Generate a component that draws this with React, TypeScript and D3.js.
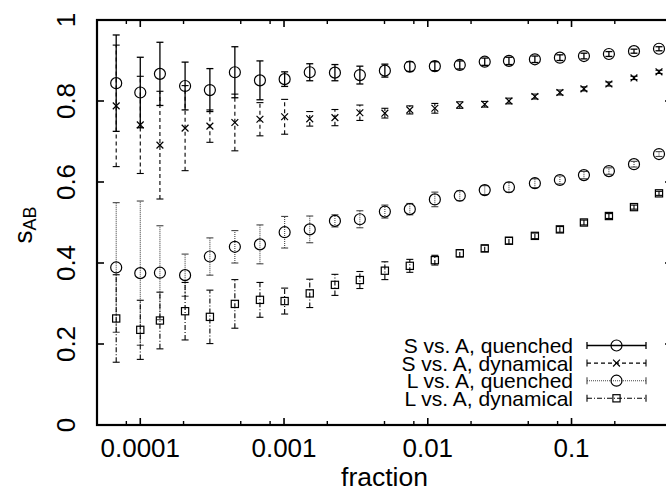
import React from "react";
import * as d3 from "d3";

// Sampled fractions (shared by all four series)
const fractions = [
  6.8e-5, 1.0e-4, 1.37e-4, 2.05e-4, 3.05e-4, 4.55e-4, 6.8e-4, 1.01e-3, 1.51e-3,
  2.26e-3, 3.37e-3, 5.03e-3, 7.5e-3, 0.0112, 0.0167, 0.0249, 0.0367, 0.0556,
  0.083, 0.122, 0.182, 0.272, 0.406,
];

const sQuenched = [
  0.844, 0.821, 0.867, 0.837, 0.827, 0.871, 0.851, 0.854, 0.871, 0.870, 0.864,
  0.875, 0.885, 0.886, 0.889, 0.897, 0.899, 0.903, 0.907, 0.911, 0.916, 0.923, 0.929,
];
const sQuenchedErr = [
  0.119, 0.087, 0.078, 0.059, 0.053, 0.063, 0.048, 0.018, 0.021, 0.02, 0.022,
  0.016, 0.012, 0.011, 0.01, 0.009, 0.009, 0.008, 0.007, 0.007, 0.006, 0.005, 0.005,
];

const sDynamical = [
  0.788, 0.741, 0.691, 0.733, 0.738, 0.747, 0.755, 0.761, 0.756, 0.759, 0.771,
  0.77, 0.778, 0.782, 0.79, 0.792, 0.8, 0.811, 0.821, 0.83, 0.842, 0.857, 0.872,
];
const sDynamicalErr = [
  0.15, 0.12, 0.133, 0.105, 0.04, 0.07, 0.041, 0.043, 0.018, 0.02, 0.019, 0.012,
  0.01, 0.012, 0.008, 0.007, 0.007, 0.006, 0.006, 0.005, 0.005, 0.004, 0.004,
];

const lQuenched = [
  0.389, 0.375, 0.376, 0.37, 0.416, 0.44, 0.446, 0.476, 0.483, 0.504, 0.508,
  0.527, 0.533, 0.557, 0.566, 0.58, 0.587, 0.597, 0.605, 0.617, 0.627, 0.644, 0.669,
];
const lQuenchedErr = [
  0.16, 0.178, 0.116, 0.052, 0.046, 0.04, 0.048, 0.039, 0.033, 0.015, 0.021,
  0.016, 0.014, 0.018, 0.012, 0.011, 0.012, 0.011, 0.01, 0.009, 0.008, 0.007, 0.006,
];

const lDynamical = [
  0.263, 0.235, 0.258, 0.281, 0.267, 0.299, 0.309, 0.306, 0.325, 0.346, 0.358,
  0.381, 0.393, 0.407, 0.424, 0.436, 0.455, 0.467, 0.483, 0.5, 0.516, 0.538, 0.572,
];
const lDynamicalErr = [
  0.108, 0.073, 0.07, 0.071, 0.066, 0.06, 0.043, 0.032, 0.035, 0.026, 0.021,
  0.022, 0.016, 0.012, 0.009, 0.008, 0.008, 0.007, 0.007, 0.006, 0.006, 0.005, 0.005,
];

const seriesLabels = [
  "S vs. A, quenched",
  "S vs. A, dynamical",
  "L vs. A, quenched",
  "L vs. A, dynamical",
];

const xTickValues = [1e-4, 1e-3, 1e-2, 1e-1];
const xTickLabels = ["0.0001", "0.001", "0.01", "0.1"];
const yTickValues = [0, 0.2, 0.4, 0.6, 0.8, 1];
const yTickLabels = ["0", "0.2", "0.4", "0.6", "0.8", "1"];

type Marker = "circle" | "cross" | "square";

const series = [
  { values: sQuenched, errors: sQuenchedErr, marker: "circle" as Marker, dash: "none", stroke: "#000", width: 1.3 },
  { values: sDynamical, errors: sDynamicalErr, marker: "cross" as Marker, dash: "4,3", stroke: "#000", width: 1.1 },
  { values: lQuenched, errors: lQuenchedErr, marker: "circle" as Marker, dash: "1,1", stroke: "#444", width: 1.1 },
  { values: lDynamical, errors: lDynamicalErr, marker: "square" as Marker, dash: "5,2,1,2", stroke: "#000", width: 1.1 },
];

const W = 666;
const H = 491;
const left = 97;
const right = 672;
const top = 20;
const bottom = 425;
const FONT = "'Liberation Sans', Arial, Helvetica, sans-serif";

const x = d3.scaleLog().domain([5e-5, 0.5]).range([left, right]);
const y = d3.scaleLinear().domain([0, 1]).range([bottom, top]);

// minor ticks at 2, 5 and 8 times each power of ten inside the domain
const minorTicks: number[] = [];
for (let e = -5; e <= -1; e++) {
  for (const m of [2, 5, 8]) {
    const v = m * Math.pow(10, e);
    if (v > 5e-5 && v < 0.5) minorTicks.push(v);
  }
}

function MarkerShape({ kind, cx, cy, stroke }: { kind: Marker; cx: number; cy: number; stroke: string }) {
  if (kind === "circle")
    return <circle cx={cx} cy={cy} r={5.5} fill="none" stroke={stroke} strokeWidth={1.2} />;
  if (kind === "square")
    return <rect x={cx - 3.6} y={cy - 3.6} width={7.2} height={7.2} fill="none" stroke={stroke} strokeWidth={1.2} />;
  const s = 3.4;
  return (
    <path
      d={`M${cx - s},${cy - s}L${cx + s},${cy + s}M${cx - s},${cy + s}L${cx + s},${cy - s}`}
      stroke={stroke}
      strokeWidth={1.2}
    />
  );
}

export default function App() {
  const cap = 3.5;
  return (
    <svg
      width={W}
      height={H}
      style={{ position: "absolute", left: 0, top: 0, background: "#fff" }}
      fontFamily={FONT}
    >
      <rect x={0} y={0} width={W} height={H} fill="#fff" />

      {/* error bars and markers */}
      {series.map((s, si) => (
        <g key={si}>
          {fractions.map((f, i) => {
            const cx = x(f);
            const y0 = y(s.values[i] - s.errors[i]);
            const y1 = y(s.values[i] + s.errors[i]);
            return (
              <g key={i} stroke={s.stroke} strokeWidth={s.width} strokeDasharray={s.dash} fill="none">
                <line x1={cx} x2={cx} y1={y0} y2={y1} />
                <line x1={cx - cap} x2={cx + cap} y1={y0} y2={y0} strokeDasharray="none" />
                <line x1={cx - cap} x2={cx + cap} y1={y1} y2={y1} strokeDasharray="none" />
              </g>
            );
          })}
          {fractions.map((f, i) => (
            <MarkerShape key={`m${i}`} kind={s.marker} cx={x(f)} cy={y(s.values[i])} stroke="#000" />
          ))}
        </g>
      ))}

      {/* axes frame */}
      <rect x={left} y={top} width={right - left} height={bottom - top} fill="none" stroke="#000" strokeWidth={2.2} />

      {/* x ticks, bottom and top */}
      {xTickValues.map((v) => (
        <g key={`xt${v}`} stroke="#000" strokeWidth={1.6}>
          <line x1={x(v)} x2={x(v)} y1={bottom} y2={bottom - 7} />
          <line x1={x(v)} x2={x(v)} y1={top} y2={top + 7} />
        </g>
      ))}
      {minorTicks.map((v) => (
        <g key={`xm${v}`} stroke="#000" strokeWidth={1.4}>
          <line x1={x(v)} x2={x(v)} y1={bottom} y2={bottom - 4} />
          <line x1={x(v)} x2={x(v)} y1={top} y2={top + 4} />
        </g>
      ))}
      {/* y ticks, left and right */}
      {yTickValues.map((v) => (
        <g key={`yt${v}`} stroke="#000" strokeWidth={1.6}>
          <line x1={left} x2={left + 7} y1={y(v)} y2={y(v)} />
          <line x1={right} x2={right - 7} y1={y(v)} y2={y(v)} />
        </g>
      ))}

      {/* tick labels */}
      {xTickValues.map((v, i) => (
        <text key={`xl${v}`} x={x(v)} y={457} textAnchor="middle" fontSize={26} fill="#000">
          {xTickLabels[i]}
        </text>
      ))}
      {yTickValues.map((v, i) => (
        <text
          key={`yl${v}`}
          transform={`translate(75,${y(v)}) rotate(-90)`}
          textAnchor="middle"
          fontSize={26}
          fill="#000"
        >
          {yTickLabels[i]}
        </text>
      ))}

      {/* axis titles */}
      <text x={384.5} y={485.5} textAnchor="middle" fontSize={26.5} fill="#000">
        fraction
      </text>
      <text transform="translate(32,225) rotate(-90)" textAnchor="middle" fontSize={26} fill="#000">
        s<tspan dy={4} fontSize={18}>AB</tspan>
      </text>

      {/* legend */}
      {seriesLabels.map((label, i) => {
        const s = series[i];
        const base = 353 + i * 17.6;
        const ly = base - 7.5;
        const x0 = 587;
        const x1 = 646;
        return (
          <g key={`lg${i}`}>
            <text x={573} y={base} textAnchor="end" fontSize={21} fill="#000">
              {label}
            </text>
            <g stroke={s.stroke} strokeWidth={s.width} strokeDasharray={s.dash} fill="none">
              <line x1={x0} x2={x1} y1={ly} y2={ly} />
              <line x1={x0} x2={x0} y1={ly - cap} y2={ly + cap} strokeDasharray="none" />
              <line x1={x1} x2={x1} y1={ly - cap} y2={ly + cap} strokeDasharray="none" />
            </g>
            <MarkerShape kind={s.marker} cx={(x0 + x1) / 2} cy={ly} stroke="#000" />
          </g>
        );
      })}
    </svg>
  );
}
